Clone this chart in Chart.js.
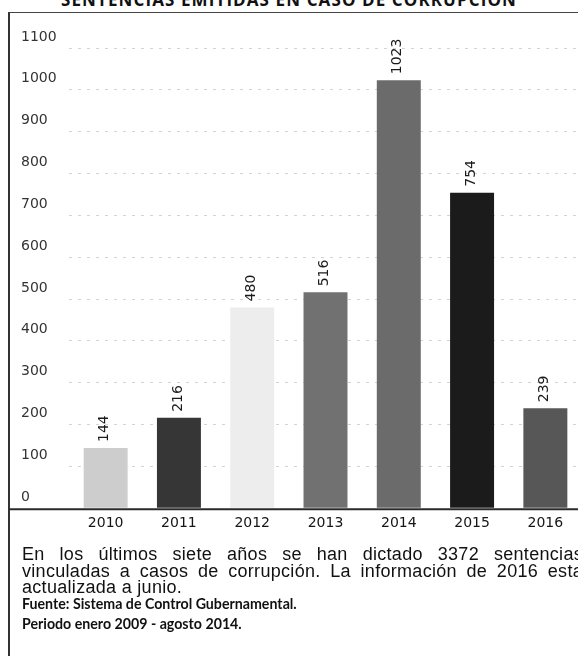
<!DOCTYPE html>
<html>
<head>
<meta charset="utf-8">
<script src="https://cdn.jsdelivr.net/npm/chart.js@4/dist/chart.umd.min.js"></script>
<style>
body{margin:0;width:578px;height:656px;overflow:hidden;background:#fff;position:relative;font-family:"Liberation Sans",Arial,sans-serif}
#title{position:absolute;left:0;width:578px;top:-12px;text-align:center;font:bold 17px "Open Sans",sans-serif;color:#111;letter-spacing:1.1px}
#frame{position:absolute;left:8px;top:12px;width:600px;height:660px;border-left:2px solid #333;border-top:1.5px solid #444}
#wrap{position:absolute;left:0;top:0;width:600px;height:545px}
#nota{position:absolute;left:22px;top:546px;width:561px;font-size:18px;line-height:16.5px;letter-spacing:0.3px;color:#111}
#nota div{text-align:justify;text-align-last:justify}
#nota div.last{text-align-last:left}
#fuente{position:absolute;left:22px;top:594px;font:bold 14.2px Lato,sans-serif;line-height:20px;color:#111}
</style>
</head>
<body>
<div id="title">SENTENCIAS EMITIDAS EN CASO DE CORRUPCIÓN</div>
<div id="frame"></div>
<div id="wrap"><canvas id="myChart" width="600" height="545"></canvas></div>
<div id="nota">
<div>En los últimos siete años se han dictado 3372 sentencias</div>
<div>vinculadas a casos de corrupción. La información de 2016 esta</div>
<div class="last">actualizada a junio.</div>
</div>
<div id="fuente">Fuente: Sistema de Control Gubernamental.<br>Periodo enero 2009 - agosto 2014.</div>
<script>
var years = ["2010","2011","2012","2013","2014","2015","2016"];
var sentencias = [144,216,480,516,1023,754,239];
var yTicks = [0,100,200,300,400,500,600,700,800,900,1000,1100];
var barColors = ["#cdcdcd","#363636","#ededed","#717171","#6b6b6b","#1b1b1b","#575757"];

// rotated numbers above each bar
var valueLabels = {
    id:'valueLabels',
    afterDatasetsDraw(chart){
        var ctx = chart.ctx;
        var meta = chart.getDatasetMeta(0);
        ctx.save();
        ctx.font = '14px "DejaVu Sans"';
        ctx.fillStyle = '#1a1a1a';
        ctx.textAlign = 'left';
        ctx.textBaseline = 'middle';
        meta.data.forEach(function(bar,i){
            ctx.save();
            ctx.translate(bar.x - 1, bar.y - 6);
            ctx.rotate(-Math.PI/2);
            ctx.fillText(String(sentencias[i]), 0, 0);
            ctx.restore();
        });
        ctx.restore();
    }
};

// base line running out to the frame
var baseLine = {
    id:'baseLine',
    afterDatasetsDraw(chart){
        var ctx = chart.ctx;
        var y = chart.scales.y.getPixelForValue(0);
        ctx.save();
        ctx.strokeStyle = '#2a2a2a';
        ctx.lineWidth = 2;
        ctx.beginPath();
        ctx.moveTo(9, y + 1);
        ctx.lineTo(chart.width, y + 1);
        ctx.stroke();
        ctx.restore();
    }
};

new Chart("myChart",{
    type:"bar",
    data:{
        labels:years,
        datasets:[{
            data:sentencias,
            backgroundColor:barColors,
            barPercentage:0.6,
            categoryPercentage:1
        }]
    },
    options:{
        responsive:false,
        animation:false,
        layout:{padding:{left:21,right:18,top:48,bottom:6}},
        plugins:{legend:{display:false},tooltip:{enabled:false}},
        scales:{
            x:{
                grid:{display:false,drawTicks:false},
                border:{display:false},
                ticks:{color:'#151515',font:{family:'DejaVu Sans',size:14},padding:7}
            },
            y:{
                min:0,max:1100,
                afterBuildTicks:function(scale){ scale.ticks = yTicks.map(function(v){return {value:v};}); },
                afterFit:function(scale){ scale.width = 48; },
                grid:{
                    drawTicks:false,
                    color:function(c){ return c.tick && c.tick.value === 0 ? 'rgba(0,0,0,0)' : '#d4d4d4'; },
                    lineWidth:1
                },
                border:{display:false,dash:[3,6]},
                ticks:{
                    color:'#333',
                    font:{family:'DejaVu Sans',size:14},
                    crossAlign:'far',
                    padding:0,
                    labelOffset:-11,
                    callback:function(v){ return String(v); }
                }
            }
        }
    },
    plugins:[valueLabels,baseLine]
});
</script>
</body>
</html>
